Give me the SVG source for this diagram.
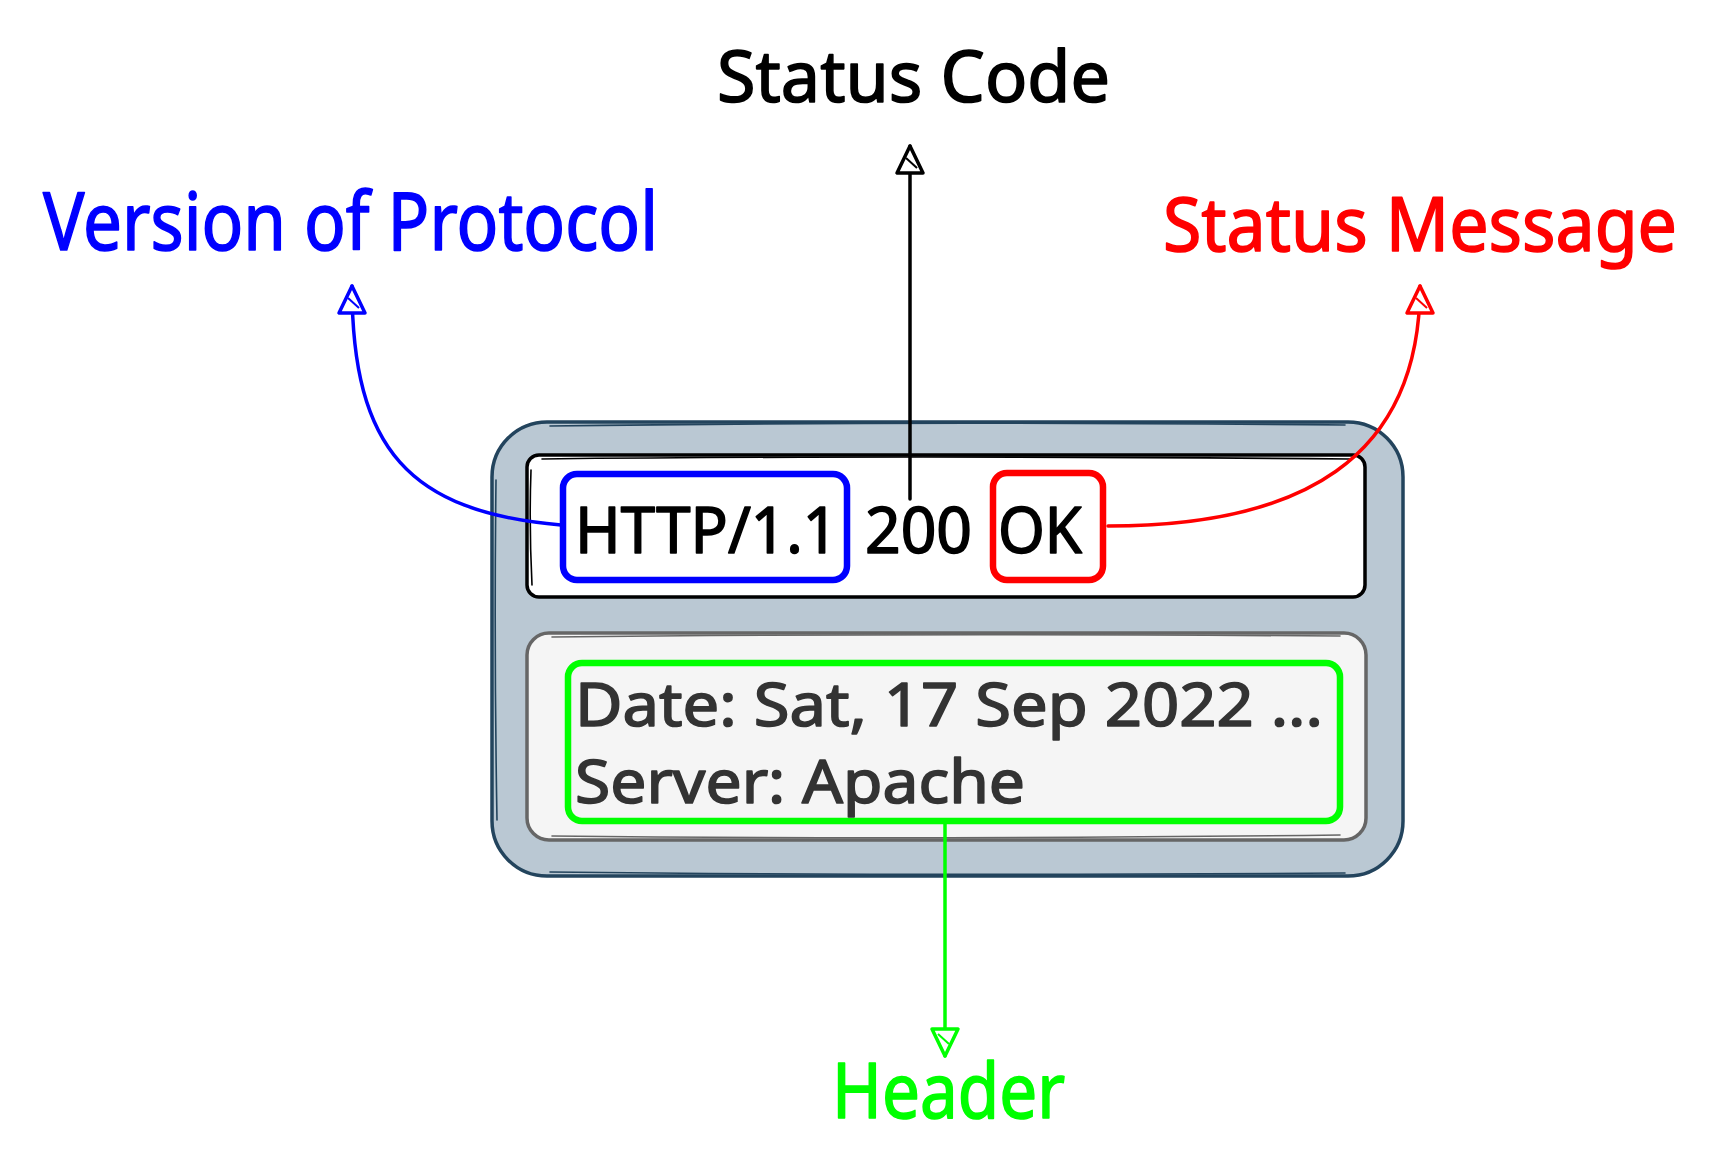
<svg xmlns="http://www.w3.org/2000/svg" width="1719" height="1159" viewBox="0 0 1719 1159">
  <style>
    .lbl { font-family: "Noto Sans", "DejaVu Sans", sans-serif; stroke-width: 1.6; stroke-linejoin: round; }
    .conn { fill: none; stroke-width: 3.5; stroke-linecap: round; }
    .hl { fill: none; stroke-width: 6.5; stroke-linejoin: round; }
    .sk { fill: none; stroke-width: 1.6; stroke-linecap: round; }
  </style>
  <defs>
    <marker id="ahBlack" markerUnits="userSpaceOnUse" viewBox="-32 -16 36 32" refX="0" refY="0" markerWidth="36" markerHeight="32" orient="auto">
      <path d="M0,0 L-27,-13 L-27,13 Z" fill="#ffffff" stroke="#000000" stroke-width="3.5" stroke-linejoin="round"/>
      <path d="M-22,7 L-12,-4" stroke="#000000" stroke-width="2"/>
    </marker>
    <marker id="ahBlue" markerUnits="userSpaceOnUse" viewBox="-32 -16 36 32" refX="0" refY="0" markerWidth="36" markerHeight="32" orient="auto">
      <path d="M0,0 L-27,-13 L-27,13 Z" fill="#ffffff" stroke="#0000ff" stroke-width="3.5" stroke-linejoin="round"/>
      <path d="M-22,7 L-12,-4" stroke="#0000ff" stroke-width="2"/>
    </marker>
    <marker id="ahRed" markerUnits="userSpaceOnUse" viewBox="-32 -16 36 32" refX="0" refY="0" markerWidth="36" markerHeight="32" orient="auto">
      <path d="M0,0 L-27,-13 L-27,13 Z" fill="#ffffff" stroke="#ff0000" stroke-width="3.5" stroke-linejoin="round"/>
      <path d="M-22,7 L-12,-4" stroke="#ff0000" stroke-width="2"/>
    </marker>
    <marker id="ahGreen" markerUnits="userSpaceOnUse" viewBox="-32 -16 36 32" refX="0" refY="0" markerWidth="36" markerHeight="32" orient="auto">
      <path d="M0,0 L-27,-13 L-27,13 Z" fill="#ffffff" stroke="#00ff00" stroke-width="3.5" stroke-linejoin="round"/>
      <path d="M-22,7 L-12,-4" stroke="#00ff00" stroke-width="2"/>
    </marker>
  </defs>

  <rect width="1719" height="1159" fill="#ffffff"/>

  <g id="response-box">
    <rect x="492" y="422" width="911" height="454" rx="55" fill="#bac8d3" stroke="#23445d" stroke-width="3.5"/>
    <path class="sk" d="M550,426 Q900,421 1345,425" stroke="#23445d"/>
    <path class="sk" d="M496,480 Q494,650 497,820" stroke="#23445d"/>
    <path class="sk" d="M550,872 Q900,876 1345,873" stroke="#23445d"/>
  </g>

  <g id="status-line">
    <rect x="527" y="455" width="838" height="142" rx="12" fill="#ffffff" stroke="#000000" stroke-width="3.5"/>
    <path class="sk" d="M542,459 Q900,455 1350,459" stroke="#000000"/>
    <path class="sk" d="M531,470 Q529,525 532,585" stroke="#000000"/>
  </g>

  <g id="headers-box">
    <rect x="527" y="633" width="839" height="207" rx="22" fill="#f5f5f5" stroke="#666666" stroke-width="3.5"/>
    <path class="sk" d="M552,637 Q900,633 1340,636" stroke="#666666"/>
    <path class="sk" d="M552,836 Q900,840 1340,835" stroke="#666666"/>
  </g>

  <g id="http-version">
    <rect class="hl" x="563" y="474" width="284" height="106" rx="14" stroke="#0000ff"/>
    <text class="lbl" x="575" y="553" font-size="64" fill="#000000" stroke="#000000" textLength="263" lengthAdjust="spacingAndGlyphs">HTTP/1.1</text>
  </g>

  <g id="status-code-value">
    <text class="lbl" x="865" y="553" font-size="64" fill="#000000" stroke="#000000" textLength="107" lengthAdjust="spacingAndGlyphs">200</text>
  </g>

  <g id="status-message-value">
    <rect class="hl" x="993" y="473" width="110" height="107" rx="14" stroke="#ff0000"/>
    <text class="lbl" x="998" y="553" font-size="64" fill="#000000" stroke="#000000" textLength="84" lengthAdjust="spacingAndGlyphs">OK</text>
  </g>

  <g id="headers">
    <rect class="hl" x="568" y="663" width="772" height="158" rx="14" stroke="#00ff00"/>
    <text class="lbl" x="575" y="726" font-size="60" fill="#333333" stroke="#333333" textLength="748" lengthAdjust="spacingAndGlyphs">Date: Sat, 17 Sep 2022 ...</text>
    <text class="lbl" x="575" y="803" font-size="60" fill="#333333" stroke="#333333" textLength="450" lengthAdjust="spacingAndGlyphs">Server: Apache</text>
  </g>

  <g id="label-status-code">
    <text class="lbl" x="717" y="102" font-size="72" fill="#000000" stroke="#000000" textLength="393" lengthAdjust="spacingAndGlyphs">Status Code</text>
  </g>

  <g id="label-version">
    <text class="lbl" x="43" y="250" font-size="80" fill="#0000ff" stroke="#0000ff" textLength="615" lengthAdjust="spacingAndGlyphs">Version of Protocol</text>
  </g>

  <g id="label-status-message">
    <text class="lbl" x="1163" y="251" font-size="75" fill="#ff0000" stroke="#ff0000" textLength="514" lengthAdjust="spacingAndGlyphs">Status Message</text>
  </g>

  <g id="label-header">
    <text class="lbl" x="832" y="1118" font-size="76" fill="#00ff00" stroke="#00ff00" textLength="233" lengthAdjust="spacingAndGlyphs">Header</text>
  </g>

  <g id="connectors">
    <path class="conn" d="M910,499 L910,146" stroke="#000000" marker-end="url(#ahBlack)"/>
    <path class="conn" d="M561,525 C410,512 352,450 352,286" stroke="#0000ff" marker-end="url(#ahBlue)"/>
    <path class="conn" d="M1108,526 C1300,526 1420,460 1420,286" stroke="#ff0000" marker-end="url(#ahRed)"/>
    <path class="conn" d="M945,823 L945,1056" stroke="#00ff00" marker-end="url(#ahGreen)"/>
  </g>
</svg>
